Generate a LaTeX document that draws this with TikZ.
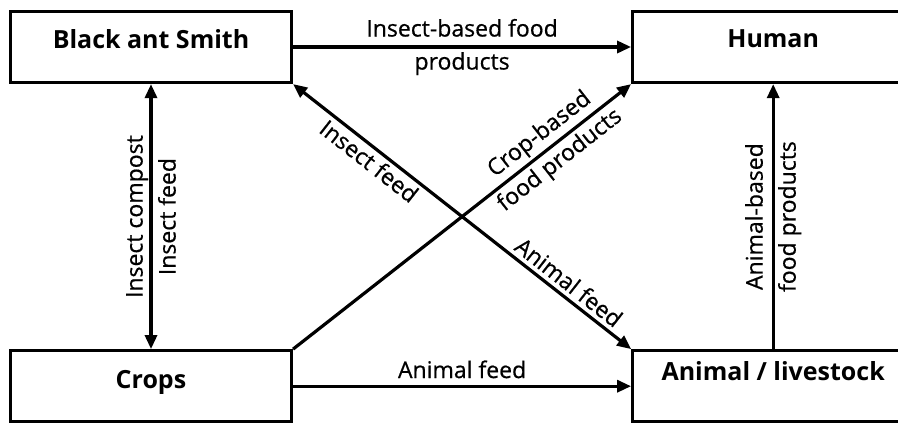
\documentclass[tikz,border=0pt]{standalone}
\usepackage{fontspec}
\setmainfont{Open Sans}
\newfontfamily\lblfont[FakeBold=0.6]{Open Sans}
\usetikzlibrary{positioning,arrows.meta}

\begin{document}
\begin{tikzpicture}[node distance=265pt and 338pt, line width=3.2pt,
  every node/.style={font=\lblfont\fontsize{23pt}{33pt}\selectfont},
  box/.style={draw, minimum width=281pt, minimum height=71pt, text height=18pt,
    font=\normalfont\bfseries\fontsize{25pt}{29pt}\selectfont},
  flow/.style={-{Triangle[length=14pt,width=12pt]}},
  both/.style={{Triangle[length=14pt,width=12pt]}-{Triangle[length=14pt,width=12pt]}},
  pair/.style={align=center, inner sep=0pt}]
\useasboundingbox (-151pt,47pt) rectangle (747pt,-377pt);
\node (bas) [box, text depth=16pt] {Black ant Smith};
\node (hum) [box, text depth=18pt, right=of bas] {Human};
\node (crp) [box, text depth=13pt, below=of bas] {Crops};
\node (ani) [box, text depth=29pt, below=of hum] {Animal / livestock};
\draw[flow] (bas) -- node[pair] {Insect-based food\\products} (hum);
\draw[both] (bas) -- node[pair, rotate=90] {Insect compost\\Insect feed} (crp);
\draw[both] (bas.south east) -- node[pos=0.25, sloped, below, inner sep=3pt] {Insect feed}
  node[pos=0.79, sloped, above, inner sep=4pt] {Animal feed} (ani.north west);
\draw[flow] (crp.north east) -- node[pos=0.76, sloped, pair] {Crop-based\\food products} (hum.south west);
\draw[flow] (crp) -- node[above=3pt] {Animal feed} (ani);
\draw[flow] (ani) -- node[pair, rotate=90] {Animal-based\\food products} (hum);
\end{tikzpicture}
\end{document}
